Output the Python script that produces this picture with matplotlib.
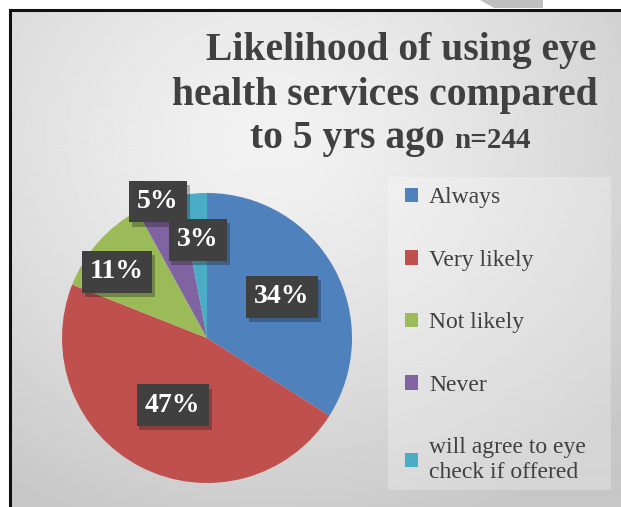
import numpy as np
import matplotlib
matplotlib.use("Agg")
import matplotlib.pyplot as plt
import matplotlib.patheffects as pe
from matplotlib.patches import Rectangle, Polygon

# data
categories = ["Always", "Very likely", "Not likely", "Never",
              "will agree to eye\ncheck if offered"]
shares = [34, 47, 11, 5, 3]
colors = ["#4F81BD", "#C0504D", "#9BBB59", "#8064A2", "#4BACC6"]
# label placement (fraction of radius, angle nudge in deg) as excel put them
label_dist = [0.59, 0.52, 0.77, 1.0, 0.68]
label_nudge = [0, 0, 5, 0, 0]

W, H = 621, 507
fig = plt.figure(figsize=(W / 100, H / 100), dpi=100)
fig.patch.set_facecolor("white")

# chart area background with soft radial gradient
bg = fig.add_axes([10 / W, 0, 1 - 10 / W, 1 - 10 / H])
yy, xx = np.mgrid[0:500, 0:611]
d = np.sqrt((xx - 260) ** 2 + ((yy - 130) * 1.15) ** 2)
shade = 0.95 - 0.17 * np.clip(d / 480, 0, 1) ** 1.3
bg.imshow(shade, cmap="gray", vmin=0, vmax=1, aspect="auto",
          extent=[0, 1, 0, 1], interpolation="bilinear")
bg.set_xlim(0, 1)
bg.set_ylim(0, 1)
bg.set_xticks([])
bg.set_yticks([])
for side in ["right", "bottom"]:
    bg.spines[side].set_visible(False)
for side in ["left", "top"]:
    bg.spines[side].set_linewidth(2.2)
    bg.spines[side].set_color("#111111")

# grey slanted shape peeking from above
fig.patches.append(Polygon([[480 / W, 1], [543 / W, 1], [543 / W, 1 - 8 / H], [494 / W, 1 - 8 / H]],
                           closed=True, transform=fig.transFigure,
                           facecolor="#bfbfbf", edgecolor="none"))

# title
serif = "Liberation Serif"
fig.text(401 / W, 1 - 50 / H, "Likelihood of using eye", ha="center", va="center",
         fontsize=28.5, fontweight="bold", family=serif, color="#404040")
fig.text(385 / W, 1 - 95 / H, "health services compared", ha="center", va="center",
         fontsize=28.5, fontweight="bold", family=serif, color="#404040")
t1 = fig.text(250 / W, 1 - 138 / H, "to 5 yrs ago ", ha="left", va="center",
              fontsize=28.5, fontweight="bold", family=serif, color="#404040")
fig.canvas.draw()
bb = t1.get_window_extent()
fig.text(bb.x1 / W, 1 - 140 / H, "n=244", ha="left", va="center",
         fontsize=21, fontweight="bold", family=serif, color="#404040")

# legend panel
fig.patches.append(Rectangle((388 / W, 1 - 490 / H), 223 / W, 313 / H,
                             transform=fig.transFigure, facecolor="white",
                             alpha=0.25, edgecolor="none"))

# pie
R = 145
cx, cy = 207, 338
ax = fig.add_axes([(cx - R) / W, 1 - (cy + R) / H, 2 * R / W, 2 * R / H])
wedges, _ = ax.pie(shares, colors=colors, startangle=90, counterclock=False,
                   wedgeprops=dict(linewidth=0))
ax.set_xlim(-1, 1)
ax.set_ylim(-1, 1)
ax.set_aspect("equal")
ax.axis("off")

for w, v, r, nd in zip(wedges, shares, label_dist, label_nudge):
    ang = np.deg2rad((w.theta1 + w.theta2) / 2 + nd)
    t = ax.text(r * np.cos(ang), r * np.sin(ang), f"{v}%", ha="center", va="center",
                fontsize=20, fontweight="bold", family=serif, color="white",
                bbox=dict(boxstyle="square,pad=0.3", facecolor="#404040", edgecolor="none"))
    t.get_bbox_patch().set_path_effects([pe.SimplePatchShadow(offset=(2, -3), alpha=0.3),
                                         pe.Normal()])

# legend
leg = fig.legend(wedges, categories, loc="upper left",
                 bbox_to_anchor=(384 / W, 1 - 166 / H), frameon=False,
                 prop=dict(family=serif, size=17), labelcolor="#404040",
                 handlelength=0.55, handleheight=0.55, handletextpad=0.45,
                 labelspacing=1.76)
for txt in leg.get_texts():
    txt.set_linespacing(1.2)

fig.savefig("out.png", dpi=100)
